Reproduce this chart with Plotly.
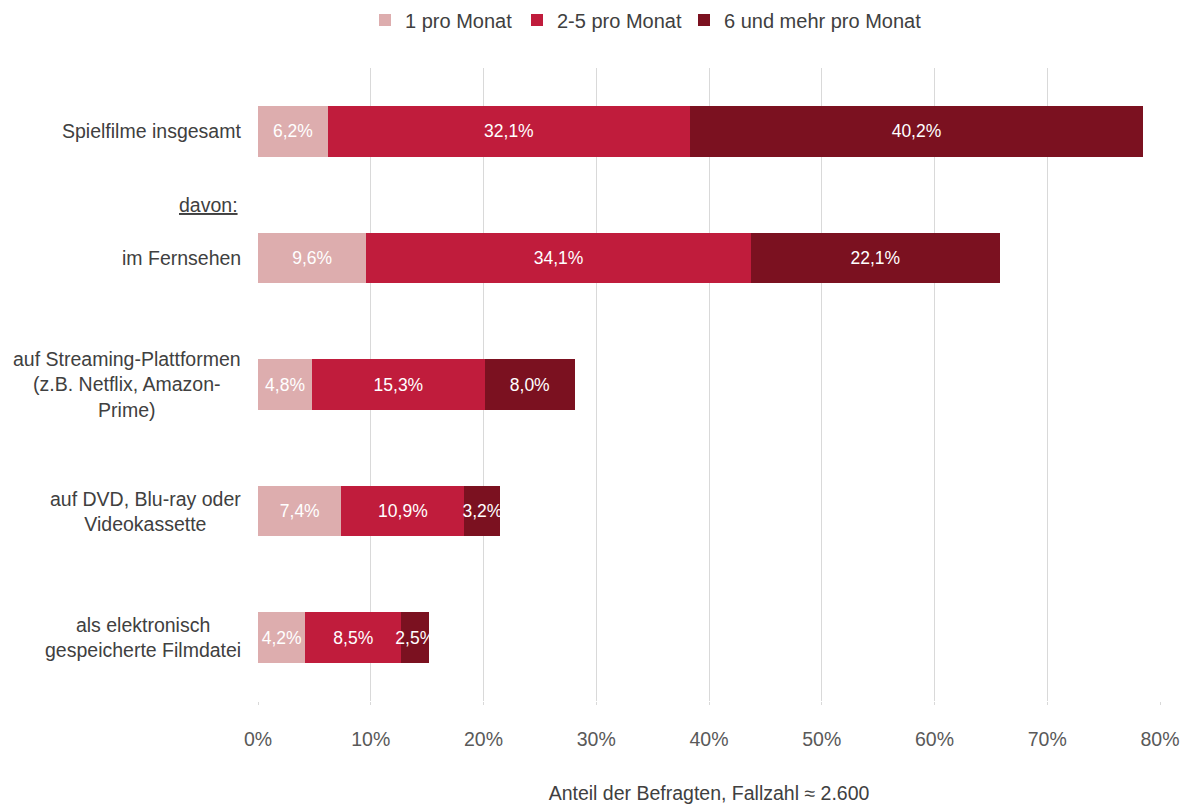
import plotly.graph_objects as go

categories = [
    "Spielfilme insgesamt",
    "im Fernsehen",
    "auf Streaming-Plattformen<br>(z.B. Netflix, Amazon-<br>Prime)",
    "auf DVD, Blu-ray oder<br>Videokassette",
    "als elektronisch<br>gespeicherte Filmdatei",
]
series_names = ["1 pro Monat", "2-5 pro Monat", "6 und mehr pro Monat"]
v1 = [6.2, 9.6, 4.8, 7.4, 4.2]
v2 = [32.1, 34.1, 15.3, 10.9, 8.5]
v3 = [40.2, 22.1, 8.0, 3.2, 2.5]
x_ticks = [0, 10, 20, 30, 40, 50, 60, 70, 80]
x_ticklabels = [f"{t}%" for t in x_ticks]
colors = ["#DDADAE", "#C01C3C", "#7B1120"]

FONT = "Liberation Sans, Arial, sans-serif"

def fmt(v):
    return f"{v:.1f}".replace(".", ",") + "%"

legend_ids = ["legend", "legend2", "legend3"]
legend_px = [365, 517, 684]  # left edge of each legend entry (page px)

fig = go.Figure()
for name, vals, col, lid in zip(series_names, [v1, v2, v3], colors, legend_ids):
    fig.add_trace(go.Bar(
        y=categories, x=vals, name=name, orientation="h",
        marker=dict(color=col, line=dict(width=0)),
        text=[fmt(v) for v in vals], textposition="inside",
        insidetextanchor="middle", textangle=0, constraintext="none",
        textfont=dict(color="white", size=17.5, family=FONT),
        width=0.4, legend=lid,
    ))

# category labels (centered multi-line)
for c in categories:
    fig.add_annotation(
        x=0, xref="paper", xanchor="right", xshift=-15,
        y=c, yref="y", yanchor="middle",
        text=c, showarrow=False, align="center",
        font=dict(size=19.5, color="#404040", family=FONT),
    )
fig.add_annotation(
    x=0, xref="paper", xanchor="right", xshift=-18,
    y=(693 - 197) / 633, yref="paper", yanchor="middle",
    text="<u>davon:</u>", showarrow=False, align="right",
    font=dict(size=19.5, color="#404040", family=FONT),
)

legend_common = dict(
    orientation="h", xanchor="left",
    y=1 + (60 - 12) / 633, yanchor="middle",
    font=dict(size=20, color="#404040", family=FONT),
    itemwidth=30,
)

fig.update_layout(
    width=1181, height=802,
    barmode="stack",
    plot_bgcolor="white", paper_bgcolor="white",
    margin=dict(l=250, r=29, t=60, b=109, autoexpand=False),
    font=dict(family=FONT, color="#404040", size=19.5),
    showlegend=True,
    xaxis=dict(
        range=[0, 80], tickvals=x_ticks, ticktext=x_ticklabels,
        showgrid=True, gridcolor="#D9D9D9", gridwidth=1,
        zeroline=False, showline=False,
        ticks="outside", ticklen=3, tickcolor="#D9D9D9",
        ticklabelstandoff=18,
        tickfont=dict(size=19.5, color="#595959", family=FONT),
        title=dict(text="Anteil der Befragten, Fallzahl ≈ 2.600",
                   standoff=36,
                   font=dict(size=19.5, color="#404040", family=FONT)),
    ),
    yaxis=dict(
        autorange="reversed", showticklabels=False, showgrid=False,
        zeroline=False, showline=False, ticks="",
    ),
)
for lid, px in zip(legend_ids, legend_px):
    fig.update_layout({lid: dict(x=(px - 258) / 902, **legend_common)})

fig.write_html("out.html")
